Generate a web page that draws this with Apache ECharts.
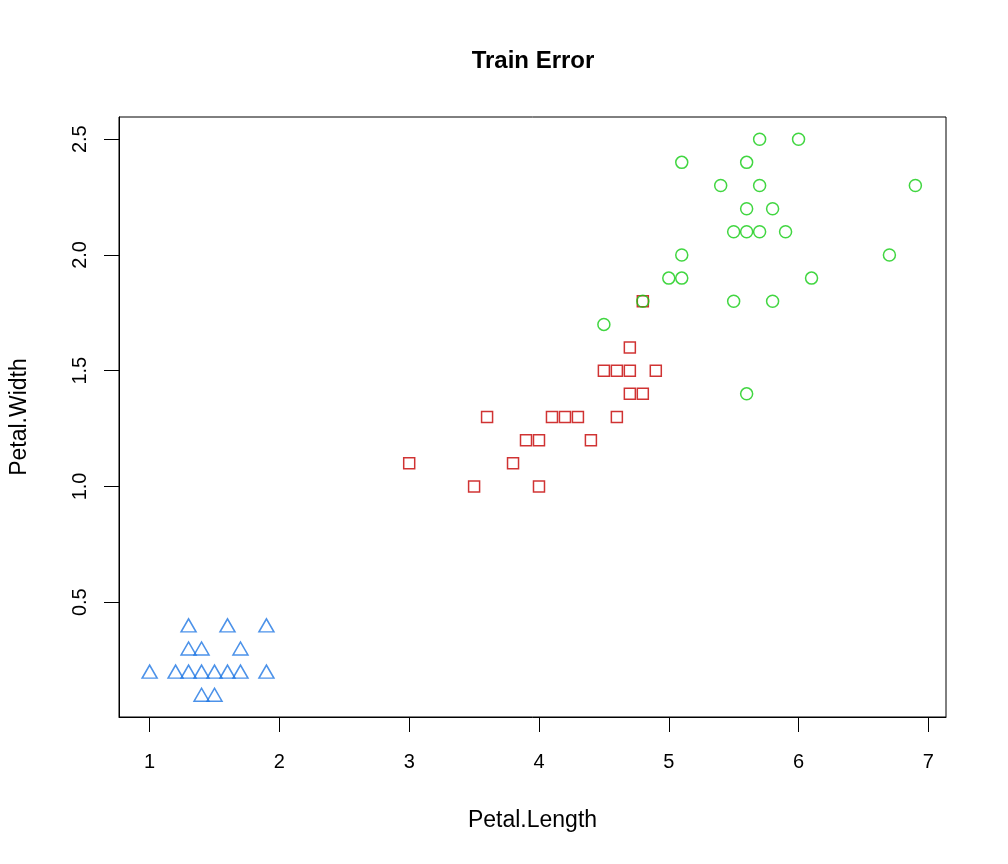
<!DOCTYPE html>
<html>
<head>
<meta charset="utf-8">
<script src="https://cdn.jsdelivr.net/npm/echarts@6/dist/echarts.min.js"></script>
<style>html,body{margin:0;padding:0;background:#fff}#c{width:1008px;height:864px}</style>
</head>
<body>
<div id="c"></div>
<script>
const xTicks = [1, 2, 3, 4, 5, 6, 7];
const yTicks = [0.5, 1.0, 1.5, 2.0, 2.5];

const setosaLength = [1.3, 1.6, 1.9, 1.3, 1.4, 1.7, 1.0, 1.2, 1.3, 1.4, 1.5, 1.6, 1.7, 1.9, 1.4, 1.5];
const setosaWidth  = [0.4, 0.4, 0.4, 0.3, 0.3, 0.3, 0.2, 0.2, 0.2, 0.2, 0.2, 0.2, 0.2, 0.2, 0.1, 0.1];

const versicolorLength = [4.7, 4.5, 4.6, 4.7, 4.9, 4.7, 4.8, 3.6, 4.1, 4.2, 4.3, 4.6, 3.9, 4.0, 4.4, 3.0, 3.8, 3.5, 4.0, 4.8];
const versicolorWidth  = [1.6, 1.5, 1.5, 1.5, 1.5, 1.4, 1.4, 1.3, 1.3, 1.3, 1.3, 1.3, 1.2, 1.2, 1.2, 1.1, 1.1, 1.0, 1.0, 1.8];

const virginicaLength = [5.7, 6.0, 5.1, 5.6, 5.4, 5.7, 6.9, 5.6, 5.8, 5.5, 5.6, 5.7, 5.9, 5.1, 6.7, 5.0, 5.1, 6.1, 4.8, 5.5, 5.8, 4.5, 5.6];
const virginicaWidth  = [2.5, 2.5, 2.4, 2.4, 2.3, 2.3, 2.3, 2.2, 2.2, 2.1, 2.1, 2.1, 2.1, 2.0, 2.0, 1.9, 1.9, 1.9, 1.8, 1.8, 1.8, 1.7, 1.4];

function pairs(xs, ys) { return xs.map((x, i) => [x, ys[i]]); }

const FONT = 'Liberation Sans, Arial, sans-serif';
const chart = echarts.init(document.getElementById('c'), null, {renderer: 'canvas'});
chart.setOption({
  animation: false,
  backgroundColor: '#fff',
  title: {
    text: 'Train Error', left: 528, top: 44, textAlign: 'center',
    textStyle: {fontFamily: FONT, fontSize: 24, fontWeight: 'bold', color: '#000'}
  },
  grid: {left: 118, right: 62, top: 117, bottom: 147, show: true, borderColor: '#000', borderWidth: 1, containLabel: false},
  xAxis: {
    type: 'value', min: 0.764, max: 7.136,
    name: 'Petal.Length', nameLocation: 'middle', nameGap: 92,
    nameTextStyle: {fontFamily: FONT, fontSize: 23, color: '#000'},
    splitLine: {show: false},
    axisLine: {show: true, lineStyle: {color: '#000', width: 1}},
    axisTick: {show: true, length: 15, customValues: xTicks, lineStyle: {color: '#000'}},
    axisLabel: {customValues: xTicks, margin: 35, fontFamily: FONT, fontSize: 20, color: '#000'}
  },
  yAxis: {
    type: 'value', min: 0.004, max: 2.596,
    name: 'Petal.Width', nameLocation: 'middle', nameGap: 88, nameRotate: 90,
    nameTextStyle: {fontFamily: FONT, fontSize: 23, color: '#000'},
    splitLine: {show: false},
    axisLine: {show: true, lineStyle: {color: '#000', width: 1}},
    axisTick: {show: true, length: 15, customValues: yTicks, lineStyle: {color: '#000'}},
    axisLabel: {customValues: yTicks, rotate: 90, margin: 29, fontFamily: FONT, fontSize: 20, color: '#000',
      formatter: v => v.toFixed(1)}
  },
  series: [
    {
      type: 'scatter', data: pairs(setosaLength, setosaWidth),
      symbol: 'triangle', symbolSize: [15, 13],
      itemStyle: {color: 'rgba(0,0,0,0)', borderColor: '#1F77E3', borderWidth: 1.5}
    },
    {
      type: 'scatter', data: pairs(versicolorLength, versicolorWidth),
      symbol: 'rect', symbolSize: 11,
      itemStyle: {color: 'rgba(0,0,0,0)', borderColor: '#C40000', borderWidth: 1.5}
    },
    {
      type: 'scatter', data: pairs(virginicaLength, virginicaWidth),
      symbol: 'circle', symbolSize: 12,
      itemStyle: {color: 'rgba(0,0,0,0)', borderColor: '#11CC11', borderWidth: 1.5}
    }
  ]
});
</script>
</body>
</html>
